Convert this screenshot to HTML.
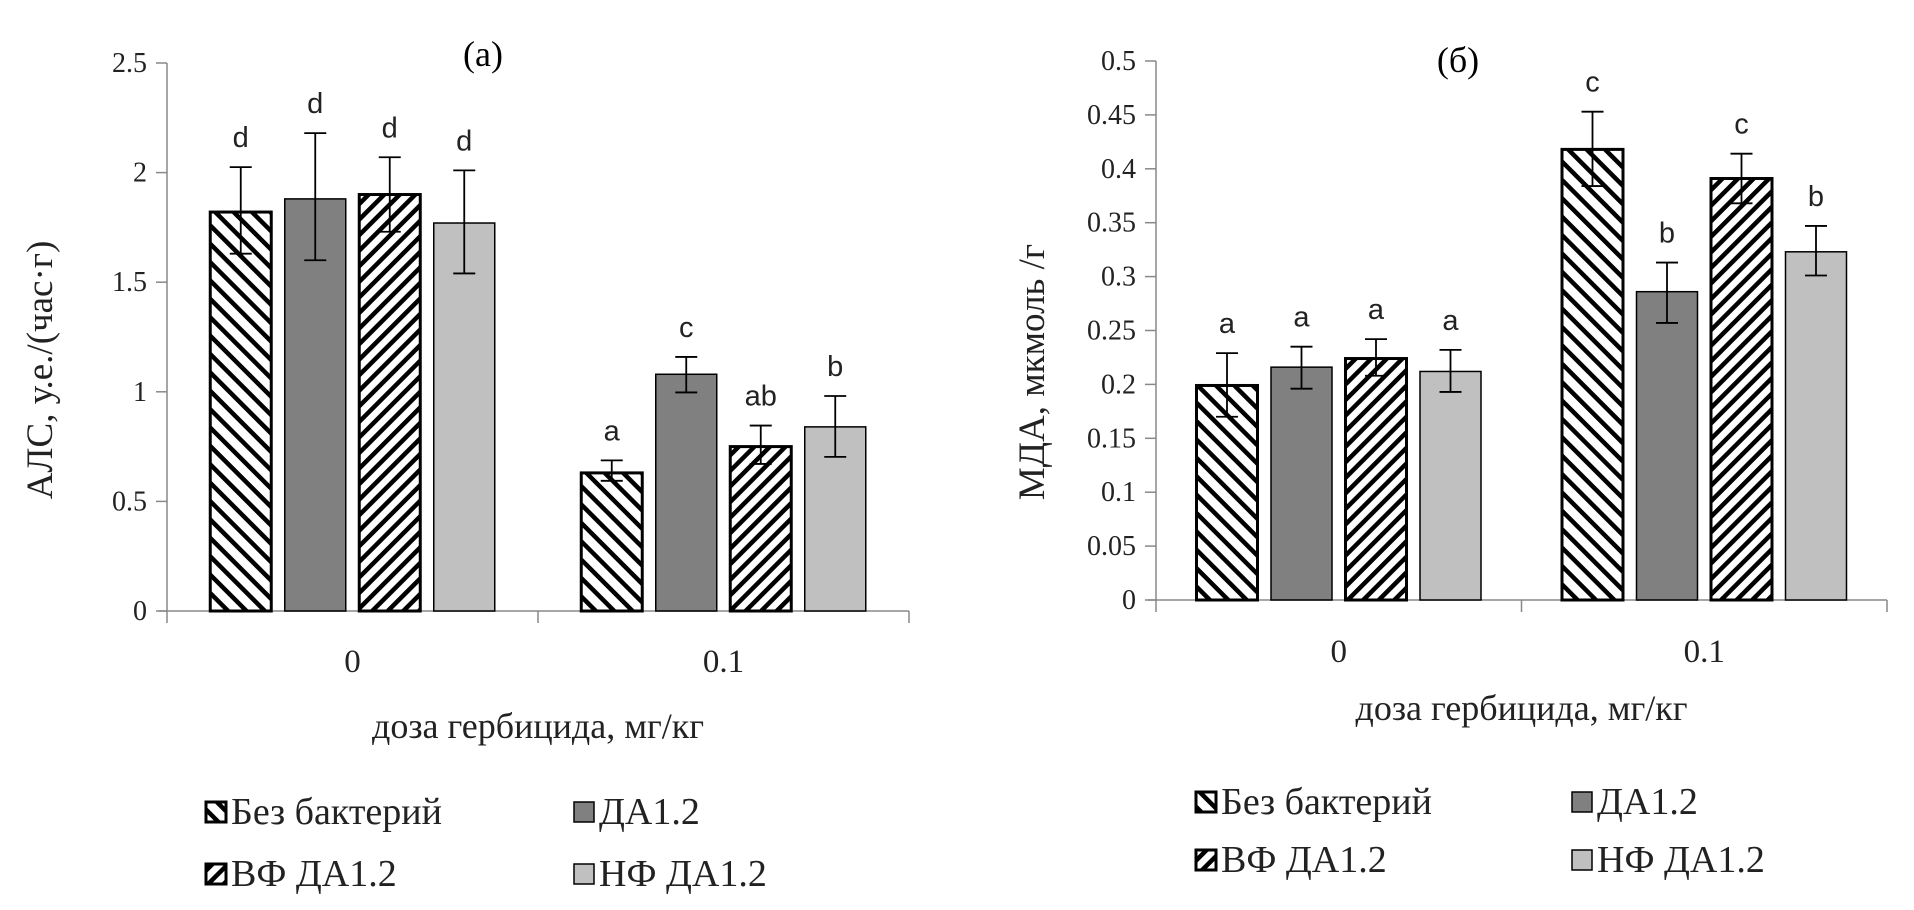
<!DOCTYPE html>
<html><head><meta charset="utf-8">
<style>
html,body{margin:0;padding:0;background:#fff;}
svg{display:block;font-family:"Liberation Serif","DejaVu Serif",serif;}
</style></head>
<body>
<svg id="fig" width="1914" height="910" viewBox="0 0 1914 910">
<defs>
<pattern id="hatchBack" patternUnits="userSpaceOnUse" width="13" height="13" patternTransform="rotate(-45)">
<rect width="13" height="13" fill="#fff"/><rect x="0" y="0" width="4.5" height="13" fill="#000"/>
</pattern>
<pattern id="hatchFwd" patternUnits="userSpaceOnUse" width="11" height="11" patternTransform="rotate(45)">
<rect width="11" height="11" fill="#fff"/><rect x="0" y="0" width="4.5" height="11" fill="#000"/>
</pattern>
</defs>
</svg>
<script>
// ---- data ----
const categories = ["0", "0.1"];
const seriesNames = ["Без бактерий", "ДА1.2", "ВФ ДА1.2", "НФ ДА1.2"];
// chart (a) АЛС
const alsValues = [[1.82, 0.63], [1.88, 1.08], [1.90, 0.75], [1.77, 0.84]];
const alsErrHi = [[2.025, 0.687], [2.18, 1.159], [2.07, 0.846], [2.01, 0.981]];
const alsErrLo = [[1.63, 0.594], [1.60, 0.997], [1.73, 0.671], [1.54, 0.703]];
const alsLetters = [["d", "a"], ["d", "c"], ["d", "ab"], ["d", "b"]];
const alsTicks = ["0", "0.5", "1", "1.5", "2", "2.5"];
// chart (б) МДА
const mdaValues = [[0.199, 0.418], [0.216, 0.286], [0.224, 0.391], [0.212, 0.323]];
const mdaErrHi = [[0.229, 0.453], [0.235, 0.313], [0.242, 0.414], [0.232, 0.347]];
const mdaErrLo = [[0.170, 0.384], [0.196, 0.257], [0.208, 0.368], [0.193, 0.301]];
const mdaLetters = [["a", "c"], ["a", "b"], ["a", "c"], ["a", "b"]];
const mdaTicks = ["0", "0.05", "0.1", "0.15", "0.2", "0.25", "0.3", "0.35", "0.4", "0.45", "0.5"];

const NS = "http://www.w3.org/2000/svg";
const svg = document.getElementById("fig");
const fills = ["url(#hatchBack)", "#808080", "url(#hatchFwd)", "#c0c0c0"];
const strokes = ["#000", "#000", "#000", "#000"];
const strokeW = [3, 1.5, 3, 1.5];

function mk(tag, attrs, parent) {
  const e = document.createElementNS(NS, tag);
  for (const k in attrs) e.setAttribute(k, attrs[k]);
  (parent || svg).appendChild(e);
  return e;
}

function drawChart(cfg) {
  const g = mk("g", {});
  
  
  const tickVals = cfg.ticks.map(Number);
  const ymax = tickVals[tickVals.length - 1];
  const y = v => cfg.y0 - (v / ymax) * (cfg.y0 - cfg.yTop);
  const catW = (cfg.x1 - cfg.x0) / categories.length;
  const xc = i => cfg.x0 + catW * (i + 0.5);
  const ax = mk("line", {x1: cfg.x0, y1: cfg.yTop, x2: cfg.x0, y2: cfg.y0, stroke: "#888", "stroke-width": 1.5}, g);
  
  
  const bx = mk("line", {x1: cfg.x0 - 8, y1: cfg.y0, x2: cfg.x1, y2: cfg.y0, stroke: "#888", "stroke-width": 1.5}, g);
  
  
  for (let i = 0; i <= categories.length; i++) {
    const xx = cfg.x0 + catW * i;
    mk("line", {x1: xx, y1: cfg.y0, x2: xx, y2: cfg.y0 + 12, stroke: "#888", "stroke-width": 1.5}, g);
  }
  cfg.ticks.forEach((t, i) => {
    const yy = y(tickVals[i]);
    mk("line", {x1: cfg.x0 - 11, y1: yy, x2: cfg.x0, y2: yy, stroke: "#888", "stroke-width": 1.5}, g);
    const tx = mk("text", {x: cfg.x0 - 20, y: yy + 9, "text-anchor": "end", "font-size": 28, fill: "#222"}, g);
    
    
    tx.textContent = t;
  });
  categories.forEach((c, i) => {
    const tx = mk("text", {x: xc(i), y: cfg.catY, "text-anchor": "middle", "font-size": 33, fill: "#222"}, g);
    
    
    tx.textContent = c;
  });
  const pitch = 74.5, bw = 61;
  cfg.values.forEach((ser, s) => {
    ser.forEach((v, i) => {
      const cx = xc(i) + (s - 1.5) * pitch;
      const r = mk("rect", {x: cx - bw / 2, y: y(v), width: bw, height: y(0) - y(v), fill: fills[s], stroke: strokes[s], "stroke-width": strokeW[s]}, g);
      
      
      const hi = y(cfg.hi[s][i]), lo = y(cfg.lo[s][i]);
      const eb = mk("path", {d: `M${cx},${hi}V${lo}M${cx - 11},${hi}H${cx + 11}M${cx - 11},${lo}H${cx + 11}`, stroke: "#000", "stroke-width": 1.8, fill: "none"}, g);
      
      
      const lt = mk("text", {x: cx, y: hi - 20, "text-anchor": "middle", "font-size": 29, fill: "#222", "font-family": "Liberation Sans, sans-serif"}, g);
      
      
      lt.textContent = cfg.letters[s][i];
    });
  });
  const t1 = mk("text", {x: cfg.titleX, y: cfg.titleY, "text-anchor": "middle", "font-size": 36, fill: "#000"}, g);
  
  
  t1.textContent = cfg.title;
  const yt = mk("text", {x: 0, y: 0, "text-anchor": "middle", "font-size": 37, fill: "#222", transform: `translate(${cfg.ytX},${cfg.ytY}) rotate(-90)`}, g);
  
  
  yt.textContent = cfg.yTitle;
  const xt = mk("text", {x: (cfg.x0 + cfg.x1) / 2, y: cfg.xtY, "text-anchor": "middle", "font-size": 36, fill: "#222"}, g);
  
  
  xt.textContent = "доза гербицида, мг/кг";
  seriesNames.forEach((n, s) => {
    const lx = cfg.legX[s % 2], ly = cfg.legY[Math.floor(s / 2)];
    const lg = mk("g", {}, g);
    
    
    mk("rect", {x: lx, y: ly - 22, width: 20, height: 20, fill: fills[s], stroke: "#000", "stroke-width": s % 2 ? 1.5 : 3}, lg);
    const tx = mk("text", {x: lx + 25, y: ly, "font-size": 38, fill: "#222"}, lg);
    tx.textContent = n;
  });
}

drawChart({name: "chart-als", title: "(a)", titleX: 483, titleY: 66,
  x0: 167, x1: 909, y0: 611, yTop: 63, ticks: alsTicks,
  values: alsValues, hi: alsErrHi, lo: alsErrLo, letters: alsLetters,
  catY: 672, yTitle: "АЛС, у.е./(час·г)", ytX: 52, ytY: 370, xtY: 738,
  legX: [206, 574], legY: [824, 886]});
drawChart({name: "chart-mda", title: "(б)", titleX: 1458, titleY: 72,
  x0: 1156, x1: 1887, y0: 600, yTop: 61, ticks: mdaTicks,
  values: mdaValues, hi: mdaErrHi, lo: mdaErrLo, letters: mdaLetters,
  catY: 662, yTitle: "МДА, мкмоль /г", ytX: 1044, ytY: 372, xtY: 720,
  legX: [1196, 1572], legY: [814, 872]});
</script>
</body></html>
